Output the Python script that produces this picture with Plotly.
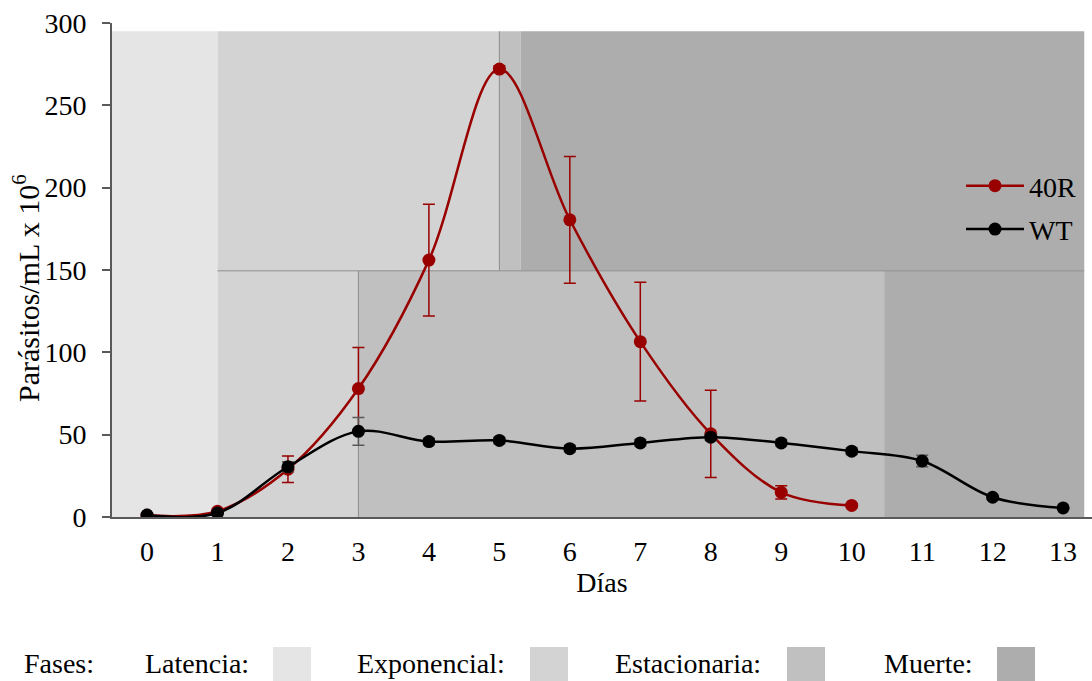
import plotly.graph_objects as go

days = list(range(14))
days_40r = list(range(11))
vals_40r = [1, 3.5, 29, 78, 156, 272, 180.5, 106.5, 50.5, 15, 7]
err_40r = [0.3, 0.5, 8, 25, 34, 2, 38.5, 36, 26.5, 4, 1]
vals_wt = [1.2, 2.4, 30.5, 52, 45.8, 46.5, 41.5, 45, 48.5, 45, 40, 34, 12, 5.5]
err_wt = [0.5, 0.5, 3, 8.5, 2, 2, 2, 2, 2, 2, 2, 3.5, 1, 0.5]
tick_vals_y = [0, 50, 100, 150, 200, 250, 300]

# phase regions (x0, x1, y0, y1, colour)
c_lat, c_exp, c_est, c_mue = "#e5e5e5", "#d3d3d3", "#c0c0c0", "#adadad"
phase_rects = [
    (-0.5, 1, 0, 295, c_lat),
    (1, 5, 149.5, 295, c_exp),
    (5, 5.3, 149.5, 295, c_est),
    (5.3, 13.3, 149.5, 295, c_mue),
    (1, 3, 0, 149.5, c_exp),
    (3, 10.46, 0, 149.5, c_est),
    (10.46, 13.3, 0, 149.5, c_mue),
]

FONT = "Liberation Serif, Times New Roman, serif"
RED = "#990000"

fig = go.Figure()
fig.add_trace(go.Scatter(
    x=days_40r, y=vals_40r, name="40R", mode="lines+markers",
    line=dict(color=RED, width=2.5, shape="spline", smoothing=1),
    marker=dict(color=RED, size=13),
    error_y=dict(type="data", array=err_40r, color=RED, thickness=1.5, width=6),
    legendgroup="a",
))
fig.add_trace(go.Scatter(
    x=days, y=vals_wt, name="WT", mode="lines+markers",
    line=dict(color="black", width=2.5, shape="spline", smoothing=1),
    marker=dict(color="black", size=13),
    error_y=dict(type="data", array=err_wt, color="#595959", thickness=1.5, width=6),
    legendgroup="b",
))

shapes = []
for x0, x1, y0, y1, col in phase_rects:
    shapes.append(dict(type="rect", xref="x", yref="y", x0=x0, x1=x1, y0=y0, y1=y1,
                       fillcolor=col, line=dict(width=0), layer="below"))
line_col = "#8c8c8c"
shapes += [
    dict(type="line", xref="x", yref="y", x0=1, x1=13.3, y0=149.5, y1=149.5,
         line=dict(color=line_col, width=1), layer="below"),
    dict(type="line", xref="x", yref="y", x0=5, x1=5, y0=149.5, y1=295,
         line=dict(color=line_col, width=1), layer="below"),
    dict(type="line", xref="x", yref="y", x0=3, x1=3, y0=0, y1=149.5,
         line=dict(color=line_col, width=1), layer="below"),
]

# paper coords: plot area 112..1092 px wide, 23..517 px tall
def px_x(px):
    return (px - 112) / 980.0

def px_y(py):
    return (517 - py) / 494.0

box_specs = [(273, 311, c_lat), (530, 568, c_exp), (787, 825, c_est), (997, 1035, c_mue)]
for bx0, bx1, col in box_specs:
    shapes.append(dict(type="rect", xref="paper", yref="paper",
                       x0=px_x(bx0), x1=px_x(bx1), y0=px_y(681), y1=px_y(647),
                       fillcolor=col, line=dict(width=0)))

labels = [("Fases:", 22), ("Latencia:", 143), ("Exponencial:", 355),
          ("Estacionaria:", 613), ("Muerte:", 882)]
annotations = []
for txt, lx in labels:
    annotations.append(dict(text=txt, xref="paper", yref="paper", x=px_x(lx), y=px_y(663),
                            xanchor="left", yanchor="middle", showarrow=False,
                            font=dict(family=FONT, size=28, color="black")))
# y-axis title
annotations.append(dict(text="Parásitos/mL x 10<sup>6</sup>", xref="paper", yref="paper",
                        x=px_x(26), y=px_y(288), xanchor="center", yanchor="middle",
                        textangle=-90, showarrow=False,
                        font=dict(family=FONT, size=30, color="black")))

fig.update_layout(
    width=1092, height=681,
    margin=dict(l=112, r=0, t=23, b=164),
    plot_bgcolor="white", paper_bgcolor="white",
    font=dict(family=FONT, size=28, color="black"),
    shapes=shapes, annotations=annotations,
    showlegend=True,
    legend=dict(x=px_x(961), y=px_y(161), xanchor="left", yanchor="top",
                bgcolor="rgba(0,0,0,0)", font=dict(family=FONT, size=28),
                tracegroupgap=4, itemwidth=58, traceorder="grouped"),
    xaxis=dict(range=[-0.497, 13.41], tickvals=days, showgrid=False, zeroline=False,
               showline=True, linecolor="#595959", linewidth=2, ticks="",
               ticklabelstandoff=8,
               title=dict(text="Días", font=dict(family=FONT, size=28), standoff=4),
               tickfont=dict(family=FONT, size=28)),
    yaxis=dict(range=[0, 300], tickvals=tick_vals_y, showgrid=False, zeroline=False,
               showline=True, linecolor="#595959", linewidth=2, ticks="outside",
               ticklen=8, tickcolor="#595959", tickwidth=1.5, ticklabelstandoff=10,
               tickfont=dict(family=FONT, size=28)),
)

fig.write_html("out.html")
